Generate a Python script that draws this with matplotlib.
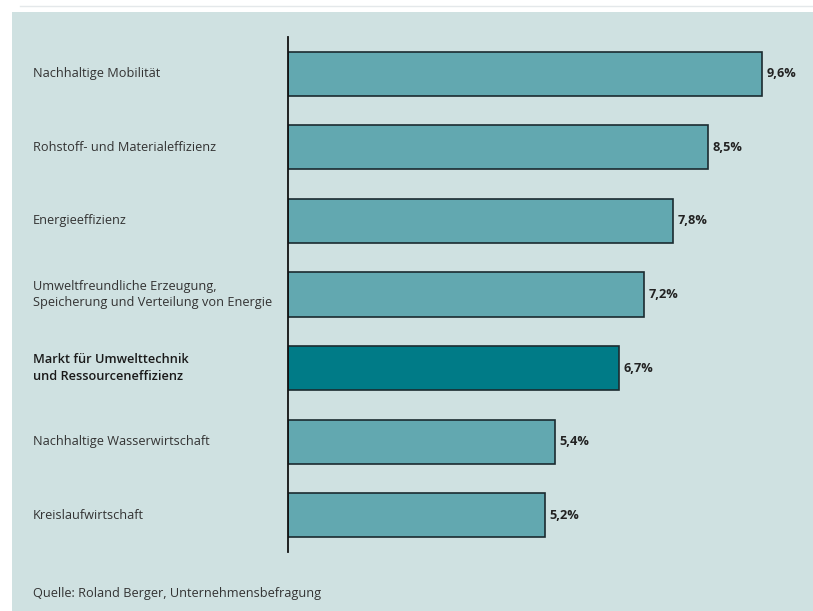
import matplotlib.pyplot as plt
from matplotlib.patches import Rectangle
from matplotlib.lines import Line2D

categories = [
    "Nachhaltige Mobilität",
    "Rohstoff- und Materialeffizienz",
    "Energieeffizienz",
    "Umweltfreundliche Erzeugung,\nSpeicherung und Verteilung von Energie",
    "Markt für Umwelttechnik\nund Ressourceneffizienz",
    "Nachhaltige Wasserwirtschaft",
    "Kreislaufwirtschaft",
]
values = [9.6, 8.5, 7.8, 7.2, 6.7, 5.4, 5.2]
value_labels = ["9,6%", "8,5%", "7,8%", "7,2%", "6,7%", "5,4%", "5,2%"]
highlight = 4
source = "Quelle: Roland Berger, Unternehmensbefragung"

plt.rcParams['font.family'] = ['Open Sans', 'DejaVu Sans']

W, H = 813, 611
fig = plt.figure(figsize=(W / 100, H / 100), dpi=100)
fig.patch.set_facecolor('white')
fig.patches.append(Rectangle((12 / W, 0), 1, (H - 12) / H, transform=fig.transFigure,
                             facecolor='#cfe1e1', edgecolor='none', zorder=-5))
fig.lines.append(Line2D([20 / W, 1], [1 - 6 / H, 1 - 6 / H], transform=fig.transFigure,
                        color='#e4e8ea', lw=1, zorder=-5))

ax = fig.add_axes([288 / W, 1 - 552 / H, (W - 288) / W, 515 / H])
ax.set_facecolor('none')
colors = ['#007b87' if i == highlight else '#62a8b0' for i in range(len(values))]
ys = list(range(len(values)))
ax.barh(ys, values, height=0.6, color=colors, edgecolor='#1b2b30', linewidth=1.2, zorder=2)
ax.set_xlim(0, (W - 288) / 49.4)
ax.set_ylim(len(values) - 0.5, -0.5)

for y, v, lab in zip(ys, values, value_labels):
    ax.text(v + 0.09, y, lab, va='center', ha='left', fontsize=9.2,
            fontweight='bold', color='#222222')

for y, cat in enumerate(categories):
    ax.text(-255 / 49.4, y, cat, va='center', ha='left', fontsize=9.2,
            color='#1a1a1a' if y == highlight else '#333333',
            fontweight='semibold' if y == highlight else 'normal',
            linespacing=1.35)

for s in ['top', 'right', 'bottom']:
    ax.spines[s].set_visible(False)
ax.spines['left'].set_color('#111111')
ax.spines['left'].set_linewidth(1.3)
ax.set_xticks([])
ax.set_yticks([])

fig.text(33 / W, 1 - 593 / H, source, fontsize=9.2, color='#333333', va='center')

fig.savefig('out.png', dpi=100)
